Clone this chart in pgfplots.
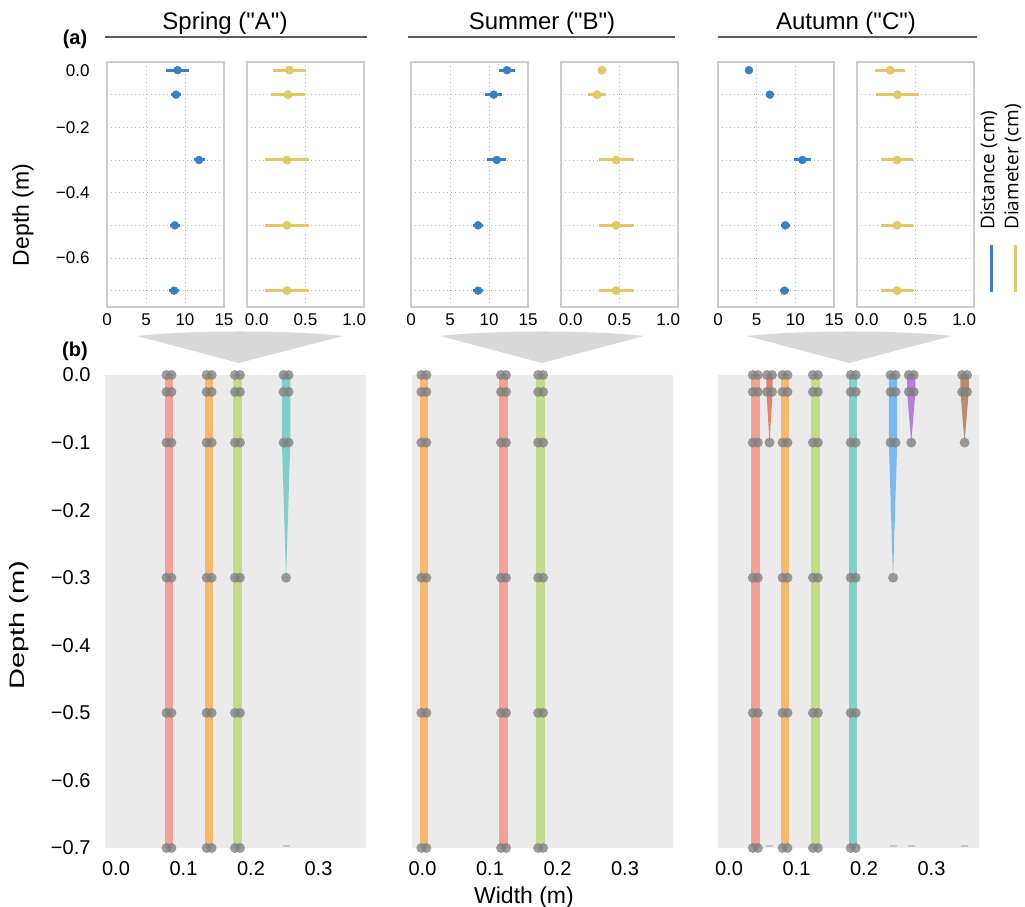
\documentclass[border=0pt]{standalone}
\usepackage{pgfplots}
\pgfplotsset{compat=1.18}
\usepackage{fontspec}
\setmainfont{Liberation Sans}
\newfontfamily\legfont{Open Sans}

\definecolor{ptblue}{RGB}{58,126,200}
\definecolor{ptyel}{RGB}{224,200,105}
\definecolor{bggray}{RGB}{235,235,235}
\definecolor{wedgegray}{RGB}{217,217,217}
\definecolor{framegray}{RGB}{204,204,204}
\definecolor{gridgray}{RGB}{185,185,185}
\definecolor{dotgray}{RGB}{128,128,128}
\definecolor{titleline}{RGB}{90,90,90}
\definecolor{cred}{RGB}{244,160,148}
\definecolor{cdred}{RGB}{232,128,105}
\definecolor{corange}{RGB}{245,184,108}
\definecolor{cgreen}{RGB}{195,220,138}
\definecolor{cteal}{RGB}{128,208,200}
\definecolor{cblue}{RGB}{122,184,242}
\definecolor{cpurple}{RGB}{184,124,218}
\definecolor{cbrown}{RGB}{185,140,112}

\pgfplotsset{
  toppanel/.style={
    scale only axis, width=117pt, height=245pt, anchor=south west,
    ymin=-0.75, ymax=0,
    axis line style={framegray, line width=1.1pt},
    major tick length=0pt, minor tick length=0pt,
    tick style={draw=none},
    ytick={-0.025,-0.2,-0.4,-0.6}, yticklabels={},
    minor ytick={-0.7,-0.6,-0.5,-0.4,-0.3,-0.2,-0.1},
    yminorgrids=true, xminorgrids=true,
    minor grid style={gridgray, line width=0.9pt, dash pattern=on 1pt off 3pt},
    xticklabel style={font=\fontsize{17}{20}\selectfont, yshift=-3pt},
    yticklabel style={font=\fontsize{17}{20}\selectfont, xshift=-14pt},
  },
  distpanel/.style={toppanel, xmin=0, xmax=15, xtick={0,5,10,15},
    xticklabels={0,5,10,15}, minor xtick={5,10}},
  diampanel/.style={toppanel, xmin=-0.1, xmax=1.1, xtick={0,0.5,1},
    xticklabels={0.0,0.5,1.0}, minor xtick={0.5}},
  distplot/.style={ptblue, only marks, mark=*, mark size=4pt,
    error bars/.cd, x dir=both, x explicit, error mark=none,
    error bar style={line width=3pt, ptblue}},
  diamplot/.style={ptyel, only marks, mark=*, mark size=4.2pt,
    error bars/.cd, x dir=both, x explicit, error mark=none,
    error bar style={line width=3pt, ptyel}},
  botpanel/.style={
    scale only axis, width=261pt, height=473pt, anchor=south west,
    xmin=-0.0163, xmax=0.3704, ymin=-0.7, ymax=0,
    axis background/.style={fill=bggray},
    axis line style={draw=none},
    major tick length=0pt, tick style={draw=none},
    xtick={0,0.1,0.2,0.3}, xticklabels={0.0,0.1,0.2,0.3},
    ytick={0,-0.1,-0.2,-0.3,-0.4,-0.5,-0.6,-0.7}, yticklabels={},
    xticklabel style={font=\fontsize{20}{24}\selectfont, yshift=-10pt},
    yticklabel style={font=\fontsize{20}{24}\selectfont, xshift=-11pt},
  },
  dots/.style={dotgray, only marks, mark=*, mark size=5pt,
    mark options={draw opacity=0, fill=dotgray, fill opacity=0.78}},
  tipdash/.style={gray!45, only marks, mark=-, mark size=3.5pt,
    mark options={draw=gray!45, line width=1.6pt}},
}

\begin{document}
\begin{tikzpicture}
\useasboundingbox (0pt,0pt) rectangle (1025pt,907pt);

% ---------- titles ----------
\node[anchor=base, font=\fontsize{24}{28}\selectfont] at (225pt,877pt) {Spring (\textquotedbl A\textquotedbl)};
\node[anchor=base, font=\fontsize{24}{28}\selectfont] at (542pt,877pt) {Summer (\textquotedbl B\textquotedbl)};
\node[anchor=base, font=\fontsize{24}{28}\selectfont] at (846pt,877pt) {Autumn (\textquotedbl C\textquotedbl)};
\draw[titleline, line width=1.3pt] (105pt,870pt) -- (367pt,870pt);
\draw[titleline, line width=1.3pt] (408pt,870pt) -- (675pt,870pt);
\draw[titleline, line width=1.3pt] (718pt,870pt) -- (977pt,870pt);

\node[font=\fontsize{20}{24}\selectfont\bfseries] at (75pt,868pt) {(a)};
\node[font=\fontsize{20}{24}\selectfont\bfseries] at (75pt,556pt) {(b)};

\node[rotate=90, font=\fontsize{23}{27}\selectfont] at (23pt,692pt) {Depth (m)};
\node[rotate=90, font=\fontsize{29}{34}\selectfont] at (19.5pt,282pt) {\scalebox{1}[0.72]{Depth (m)}};
\node[font=\fontsize{23}{27}\selectfont] at (524pt,9.5pt) {Width (m)};

% legend
\node[rotate=90, anchor=west, inner sep=0pt, font=\legfont\fontsize{19}{23}\selectfont] at (989pt,677pt) {Distance (cm)};
\node[rotate=90, anchor=west, inner sep=0pt, font=\legfont\fontsize{19}{23}\selectfont] at (1013pt,677pt) {Diameter (cm)};
\draw[ptblue, line width=3pt] (991pt,662pt) -- (991pt,615pt);
\draw[ptyel, line width=3pt] (1015pt,662pt) -- (1015pt,615pt);

% wedges
\fill[wedgegray] (137pt,571pt) .. controls (190pt,577pt) and (290pt,577pt) .. (343pt,571pt) -- (239pt,544pt) -- cycle;
\fill[wedgegray] (440pt,571pt) .. controls (493pt,577pt) and (593pt,577pt) .. (644pt,571pt) -- (542pt,544pt) -- cycle;
\fill[wedgegray] (747pt,571pt) .. controls (800pt,577pt) and (900pt,577pt) .. (952pt,571pt) -- (849pt,544pt) -- cycle;

% ---------- (a) top panels ----------
\begin{axis}[distpanel, at={(107pt,600pt)},
  yticklabels={0.0,−0.2,−0.4,−0.6}]
\addplot[distplot] coordinates {
 (9.05,-0.025) +- (1.45,0)
 (8.85,-0.1) +- (0.6,0)
 (11.8,-0.3) +- (0.7,0)
 (8.7,-0.5) +- (0.6,0)
 (8.6,-0.7) +- (0.6,0)};
\end{axis}
\begin{axis}[diampanel, at={(247pt,600pt)}]
\addplot[diamplot] coordinates {
 (0.335,-0.025) +- (0.165,0)
 (0.32,-0.1) +- (0.17,0)
 (0.31,-0.3) +- (0.23,0)
 (0.31,-0.5) +- (0.23,0)
 (0.31,-0.7) +- (0.23,0)};
\end{axis}

\begin{axis}[distpanel, at={(411pt,600pt)}]
\addplot[distplot] coordinates {
 (12.3,-0.025) +- (1.0,0)
 (10.6,-0.1) +- (1.1,0)
 (11.0,-0.3) +- (1.2,0)
 (8.6,-0.5) +- (0.6,0)
 (8.6,-0.7) +- (0.6,0)};
\end{axis}
\begin{axis}[diampanel, at={(561pt,600pt)}]
\addplot[diamplot] coordinates {
 (0.32,-0.025) +- (0,0)
 (0.27,-0.1) +- (0.095,0)
 (0.465,-0.3) +- (0.18,0)
 (0.465,-0.5) +- (0.18,0)
 (0.465,-0.7) +- (0.18,0)};
\end{axis}

\begin{axis}[distpanel, at={(718pt,600pt)}, width=116pt]
\addplot[distplot] coordinates {
 (4.0,-0.025) +- (0,0)
 (6.7,-0.1) +- (0.5,0)
 (10.9,-0.3) +- (1.1,0)
 (8.7,-0.5) +- (0.6,0)
 (8.6,-0.7) +- (0.6,0)};
\end{axis}
\begin{axis}[diampanel, at={(857pt,600pt)}]
\addplot[diamplot] coordinates {
 (0.24,-0.025) +- (0.155,0)
 (0.315,-0.1) +- (0.225,0)
 (0.31,-0.3) +- (0.165,0)
 (0.31,-0.5) +- (0.165,0)
 (0.31,-0.7) +- (0.165,0)};
\end{axis}

% ---------- (b) bottom panels ----------
\begin{axis}[botpanel, at={(105pt,59pt)},
  yticklabels={0.0,−0.1,−0.2,−0.3,−0.4,−0.5,−0.6,−0.7}]
\addplot[fill=cred, draw=none] coordinates {(0.0723,0.01) (0.0847,0.01) (0.0847,-0.71) (0.0723,-0.71)} -- cycle;
\addplot[fill=corange, draw=none] coordinates {(0.1318,0.01) (0.1442,0.01) (0.1442,-0.71) (0.1318,-0.71)} -- cycle;
\addplot[fill=cgreen, draw=none] coordinates {(0.1738,0.01) (0.1862,0.01) (0.1862,-0.71) (0.1738,-0.71)} -- cycle;
\addplot[fill=cteal, draw=none] coordinates {(0.2458,0.01) (0.2582,0.01) (0.2582,-0.1) (0.252,-0.3) (0.2458,-0.1)} -- cycle;
\addplot[dots] coordinates {
 (0.0748,0) (0.0822,0) (0.1343,0) (0.1417,0) (0.1763,0) (0.1837,0) (0.2483,0) (0.2557,0)
 (0.0748,-0.025) (0.0822,-0.025) (0.1343,-0.025) (0.1417,-0.025) (0.1763,-0.025) (0.1837,-0.025) (0.2483,-0.025) (0.2557,-0.025)
 (0.0748,-0.1) (0.0822,-0.1) (0.1343,-0.1) (0.1417,-0.1) (0.1763,-0.1) (0.1837,-0.1) (0.2483,-0.1) (0.2557,-0.1)
 (0.0748,-0.3) (0.0822,-0.3) (0.1343,-0.3) (0.1417,-0.3) (0.1763,-0.3) (0.1837,-0.3) (0.252,-0.3)
 (0.0748,-0.5) (0.0822,-0.5) (0.1343,-0.5) (0.1417,-0.5) (0.1763,-0.5) (0.1837,-0.5)
 (0.0748,-0.7) (0.0822,-0.7) (0.1343,-0.7) (0.1417,-0.7) (0.1763,-0.7) (0.1837,-0.7)};
\addplot[tipdash] coordinates {(0.252,-0.697)};
\end{axis}

\begin{axis}[botpanel, at={(411.5pt,59pt)}]
\addplot[fill=corange, draw=none] coordinates {(-0.0042,0.01) (0.0082,0.01) (0.0082,-0.71) (-0.0042,-0.71)} -- cycle;
\addplot[fill=cred, draw=none] coordinates {(0.1138,0.01) (0.1262,0.01) (0.1262,-0.71) (0.1138,-0.71)} -- cycle;
\addplot[fill=cgreen, draw=none] coordinates {(0.1688,0.01) (0.1812,0.01) (0.1812,-0.71) (0.1688,-0.71)} -- cycle;
\addplot[dots] coordinates {
 (-0.0017,0) (0.0057,0) (0.1163,0) (0.1237,0) (0.1713,0) (0.1787,0)
 (-0.0017,-0.025) (0.0057,-0.025) (0.1163,-0.025) (0.1237,-0.025) (0.1713,-0.025) (0.1787,-0.025)
 (-0.0017,-0.1) (0.0057,-0.1) (0.1163,-0.1) (0.1237,-0.1) (0.1713,-0.1) (0.1787,-0.1)
 (-0.0017,-0.3) (0.0057,-0.3) (0.1163,-0.3) (0.1237,-0.3) (0.1713,-0.3) (0.1787,-0.3)
 (-0.0017,-0.5) (0.0057,-0.5) (0.1163,-0.5) (0.1237,-0.5) (0.1713,-0.5) (0.1787,-0.5)
 (-0.0017,-0.7) (0.0057,-0.7) (0.1163,-0.7) (0.1237,-0.7) (0.1713,-0.7) (0.1787,-0.7)};
\end{axis}

\begin{axis}[botpanel, at={(718pt,59pt)}]
\addplot[fill=cred, draw=none] coordinates {(0.0328,0.01) (0.0452,0.01) (0.0452,-0.71) (0.0328,-0.71)} -- cycle;
\addplot[fill=cdred, draw=none] coordinates {(0.0555,0.01) (0.0645,0.01) (0.0645,-0.025) (0.060,-0.1) (0.0555,-0.025)} -- cycle;
\addplot[fill=corange, draw=none] coordinates {(0.0768,0.01) (0.0892,0.01) (0.0892,-0.71) (0.0768,-0.71)} -- cycle;
\addplot[fill=cgreen, draw=none] coordinates {(0.1218,0.01) (0.1342,0.01) (0.1342,-0.71) (0.1218,-0.71)} -- cycle;
\addplot[fill=cteal, draw=none] coordinates {(0.1778,0.01) (0.1902,0.01) (0.1902,-0.71) (0.1778,-0.71)} -- cycle;
\addplot[fill=cblue, draw=none] coordinates {(0.2368,0.01) (0.2492,0.01) (0.2492,-0.1) (0.243,-0.3) (0.2368,-0.1)} -- cycle;
\addplot[fill=cpurple, draw=none] coordinates {(0.2638,0.01) (0.2762,0.01) (0.2762,-0.025) (0.270,-0.1) (0.2638,-0.025)} -- cycle;
\addplot[fill=cbrown, draw=none] coordinates {(0.3428,0.01) (0.3552,0.01) (0.3552,-0.025) (0.349,-0.1) (0.3428,-0.025)} -- cycle;
\addplot[dots] coordinates {
 (0.0353,0) (0.0427,0) (0.0563,0) (0.0637,0) (0.0793,0) (0.0867,0) (0.1243,0) (0.1317,0) (0.1803,0) (0.1877,0) (0.2393,0) (0.2467,0) (0.2663,0) (0.2737,0) (0.3453,0) (0.3527,0)
 (0.0353,-0.025) (0.0427,-0.025) (0.0563,-0.025) (0.0637,-0.025) (0.0793,-0.025) (0.0867,-0.025) (0.1243,-0.025) (0.1317,-0.025) (0.1803,-0.025) (0.1877,-0.025) (0.2393,-0.025) (0.2467,-0.025) (0.2663,-0.025) (0.2737,-0.025) (0.3453,-0.025) (0.3527,-0.025)
 (0.0353,-0.1) (0.0427,-0.1) (0.060,-0.1) (0.0793,-0.1) (0.0867,-0.1) (0.1243,-0.1) (0.1317,-0.1) (0.1803,-0.1) (0.1877,-0.1) (0.2393,-0.1) (0.2467,-0.1) (0.270,-0.1) (0.349,-0.1)
 (0.0353,-0.3) (0.0427,-0.3) (0.0793,-0.3) (0.0867,-0.3) (0.1243,-0.3) (0.1317,-0.3) (0.1803,-0.3) (0.1877,-0.3) (0.243,-0.3)
 (0.0353,-0.5) (0.0427,-0.5) (0.0793,-0.5) (0.0867,-0.5) (0.1243,-0.5) (0.1317,-0.5) (0.1803,-0.5) (0.1877,-0.5)
 (0.0353,-0.7) (0.0427,-0.7) (0.0793,-0.7) (0.0867,-0.7) (0.1243,-0.7) (0.1317,-0.7) (0.1803,-0.7) (0.1877,-0.7)};
\addplot[tipdash] coordinates {(0.060,-0.697) (0.243,-0.697) (0.270,-0.697) (0.349,-0.697)};
\end{axis}
\end{tikzpicture}
\end{document}
